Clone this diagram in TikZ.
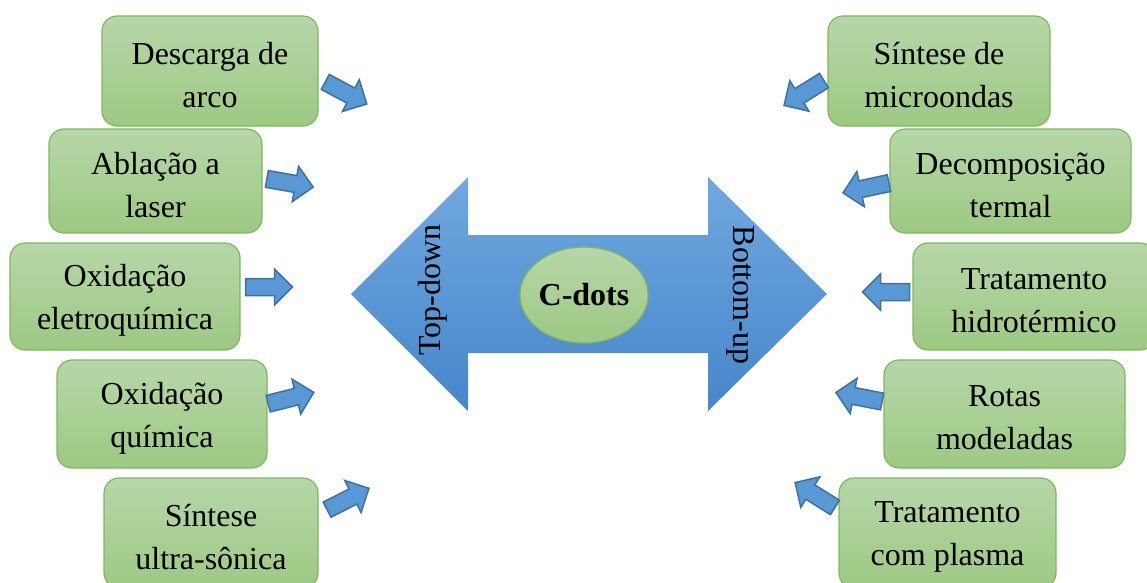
\documentclass[tikz,border=0pt]{standalone}
\usepackage{fontspec}
\setmainfont{Liberation Serif}
\usetikzlibrary{shapes.geometric}

\definecolor{boxtop}{HTML}{B6D7A8}
\definecolor{boxbot}{HTML}{9DC983}
\definecolor{boxline}{HTML}{7FB75C}
\definecolor{bigtop}{HTML}{70A8E0}
\definecolor{bigbot}{HTML}{4686CA}
\definecolor{arrfill}{HTML}{5898D4}
\definecolor{arrline}{HTML}{41719C}

\tikzset{
  method/.style={draw=boxline, line width=1.2pt, rounded corners=15pt,
    top color=boxtop, bottom color=boxbot, inner sep=0pt},
  methodtext/.style={align=center, inner sep=0pt,
    font=\fontsize{32}{43}\selectfont},
  core/.style={ellipse, draw=boxline, line width=1.2pt,
    top color=boxtop, bottom color=boxbot, minimum width=122pt,
    minimum height=96pt, inner sep=0pt,
    font=\fontsize{32}{43}\selectfont\bfseries},
  route/.style={font=\fontsize{32}{43}\selectfont, inner sep=0pt},
  blockarrow/.style={fill=arrfill, draw=arrline, line width=1.5pt, line join=miter}
}

% rounded method box #1 of size #4 x #5 centred at (#2,#3) with text #6
\newcommand\methodbox[6]{%
  \node[method, minimum width=#4pt, minimum height=#5pt] (#1) at (#2,#3) {};
  \node[methodtext] (#1t) at ([yshift=-4pt]#1.center) {#6};}

% small block arrow centred at (#1,#2), pointing in direction #3 (degrees)
\newcommand\blockarr[3]{%
  \draw[blockarrow, shift={(#1,#2)}, rotate=#3]
    (-23.5,-8.5) -- (5.5,-8.5) -- (5.5,-18) -- (23.5,0) -- (5.5,18)
    -- (5.5,8.5) -- (-23.5,8.5) -- cycle;}

\begin{document}
\begin{tikzpicture}[x=1pt, y=-1pt]
\useasboundingbox (0,0) rectangle (1147,582);

% central double arrow
\path[top color=bigtop, bottom color=bigbot]
  (351,294) -- (468,177) -- (468,235) -- (708,235) -- (708,177) -- (827,294)
  -- (708,411) -- (708,353) -- (468,353) -- (468,411) -- cycle;
\node[route, rotate=90] (td) at (433,290) {Top-down};
\node[route, rotate=-90] (bu) at (741,295) {Bottom-up};
\node[core] (cdots) at (584,295) {C-dots};

% top-down methods
\methodbox{l1}{210}{71}{216}{110}{Descarga de\\arco}
\methodbox{l2}{155.5}{181}{213}{104}{Ablação a\\laser}
\methodbox{l3}{125}{296.5}{230}{107}{Oxidação\\eletroquímica}
\methodbox{l4}{162}{414}{210}{108}{Oxidação\\química}
\methodbox{l5}{211}{533}{214}{110}{Síntese\\ultra-sônica}

% bottom-up methods
\methodbox{r1}{939}{71}{222}{110}{Síntese de\\microondas}
\methodbox{r2}{1010.5}{181}{241}{104}{Decomposição\\termal}
\methodbox{r3}{1034}{296.5}{242}{107}{Tratamento\\hidrotérmico}
\methodbox{r4}{1004.5}{414}{241}{108}{Rotas\\modeladas}
\methodbox{r5}{947.5}{533}{217}{110}{Tratamento\\com plasma}

% arrows from the methods towards the centre
\blockarr{346}{93}{-28}
\blockarr{290}{183}{-10}
\blockarr{269}{287}{0}
\blockarr{291}{398}{14}
\blockarr{348}{499}{27}

\blockarr{804}{93}{212}
\blockarr{866}{188}{192}
\blockarr{886}{292}{180}
\blockarr{859}{397}{169}
\blockarr{815}{495}{148}
\end{tikzpicture}
\end{document}
